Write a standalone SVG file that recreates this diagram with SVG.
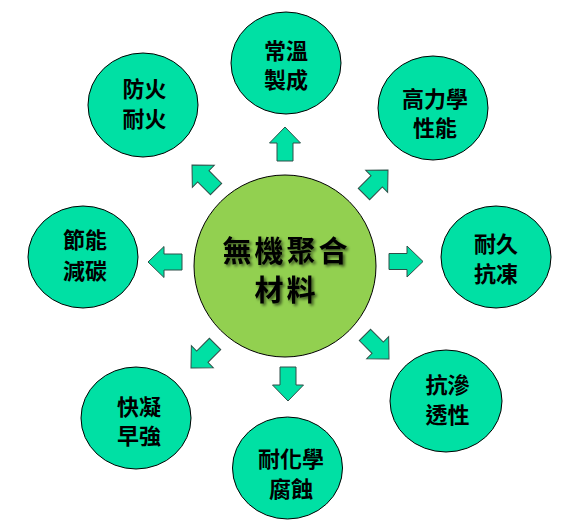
<svg xmlns="http://www.w3.org/2000/svg" xmlns:xlink="http://www.w3.org/1999/xlink" width="574" height="531" viewBox="0 0 574 531">
<style>
.node{fill:#00E0A4;stroke:#000;stroke-width:1}
.hub{fill:#92D050;stroke:#000;stroke-width:1}
.lbl{font-family:"Noto Sans CJK TC","Noto Sans CJK SC",sans-serif;font-weight:700;font-size:22px;fill:#000;text-anchor:middle;dominant-baseline:central}
.hubt{font-family:"Noto Sans CJK TC","Noto Sans CJK SC",sans-serif;font-weight:700;font-size:29px;letter-spacing:3px;fill:#000;text-anchor:middle;dominant-baseline:central}
.arr{fill:#00E0A4;stroke:#2E4F48;stroke-width:1;stroke-linejoin:miter}
</style>
<defs>
<polygon id="arrow" points="-34,-8 -16,-8 -16,-15.5 0,0 -16,15.5 -16,8 -34,8"/>
<filter id="shadow" x="-20%" y="-20%" width="140%" height="140%">
<feGaussianBlur in="SourceAlpha" stdDeviation="1.5"/>
<feOffset dx="2" dy="2" result="b"/>
<feComponentTransfer><feFuncA type="linear" slope="0.6"/></feComponentTransfer>
<feMerge><feMergeNode/><feMergeNode in="SourceGraphic"/></feMerge>
</filter>
</defs>
<rect width="574" height="531" fill="#fff"/>
<g id="connectors">
<use xlink:href="#arrow" class="arr" transform="translate(285,127) rotate(-90)"/>
<use xlink:href="#arrow" class="arr" transform="translate(288,401) rotate(90)"/>
<use xlink:href="#arrow" class="arr" transform="translate(423,261.5)"/>
<use xlink:href="#arrow" class="arr" transform="translate(148,262) rotate(180)"/>
<use xlink:href="#arrow" class="arr" transform="translate(192,165) rotate(-135)"/>
<use xlink:href="#arrow" class="arr" transform="translate(388,170) rotate(-45)"/>
<use xlink:href="#arrow" class="arr" transform="translate(389,359) rotate(45)"/>
<use xlink:href="#arrow" class="arr" transform="translate(191,368) rotate(135)"/>
</g>
<g id="hub">
<circle class="hub" cx="285" cy="266" r="91"/>
<g filter="url(#shadow)">
<text class="hubt" x="286.5" y="249">無機聚合</text>
<text class="hubt" x="286.5" y="288">材料</text>
</g>
</g>
<g id="n-changwen">
<ellipse class="node" cx="286" cy="63" rx="55" ry="51"/>
<text class="lbl" x="286" y="48.5">常溫</text>
<text class="lbl" x="286" y="77.5">製成</text>
</g>
<g id="n-gaolixue">
<ellipse class="node" cx="433" cy="108" rx="55" ry="52"/>
<text class="lbl" x="435" y="97">高力學</text>
<text class="lbl" x="435" y="126">性能</text>
</g>
<g id="n-fanghuo">
<ellipse class="node" cx="143" cy="105" rx="55" ry="52"/>
<text class="lbl" x="144.5" y="87">防火</text>
<text class="lbl" x="144.5" y="117">耐火</text>
</g>
<g id="n-jieneng">
<ellipse class="node" cx="83" cy="257" rx="55" ry="51"/>
<text class="lbl" x="85" y="238">節能</text>
<text class="lbl" x="85" y="268.5">減碳</text>
</g>
<g id="n-naijiu">
<ellipse class="node" cx="496" cy="257" rx="55" ry="51"/>
<text class="lbl" x="496" y="241.5">耐久</text>
<text class="lbl" x="496" y="271.5">抗凍</text>
</g>
<g id="n-kangshen">
<ellipse class="node" cx="446" cy="401" rx="56" ry="51"/>
<text class="lbl" x="447.5" y="383">抗滲</text>
<text class="lbl" x="447.5" y="413">透性</text>
</g>
<g id="n-kuaining">
<ellipse class="node" cx="136" cy="418" rx="55" ry="51"/>
<text class="lbl" x="139" y="405">快凝</text>
<text class="lbl" x="139" y="434">早強</text>
</g>
<g id="n-naihuaxue">
<ellipse class="node" cx="287.5" cy="468" rx="55" ry="51"/>
<text class="lbl" x="291" y="457">耐化學</text>
<text class="lbl" x="291" y="487">腐蝕</text>
</g>
</svg>
